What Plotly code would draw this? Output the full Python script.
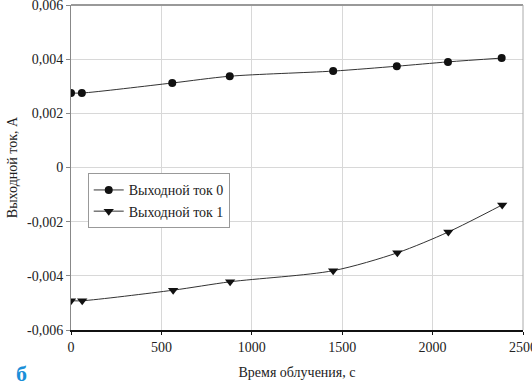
import plotly.graph_objects as go

time0 = [0, 60, 560, 878, 1450, 1802, 2085, 2382]
current0 = [0.00275, 0.00275, 0.00312, 0.00337, 0.00356, 0.00374, 0.00390, 0.00404]
time1 = [0, 62, 565, 880, 1450, 1805, 2087, 2385]
current1 = [-0.00492, -0.00492, -0.00453, -0.00422, -0.00381, -0.00315, -0.00238, -0.00138]
name0 = "Выходной ток 0"
name1 = "Выходной ток 1"
y_ticks = [-0.006, -0.004, -0.002, 0, 0.002, 0.004, 0.006]
y_ticktext = ["-0,006", "-0,004", "-0,002", "0", "0,002", "0,004", "0,006"]
x_ticks = [0, 500, 1000, 1500, 2000, 2500]

font = "Liberation Serif"

fig = go.Figure()
fig.add_trace(go.Scatter(
    x=time0, y=current0, name=name0, mode="lines+markers",
    line=dict(color="#333333", width=1, shape="spline", smoothing=0.8),
    marker=dict(symbol="circle", size=8, color="#111111"),
))
fig.add_trace(go.Scatter(
    x=time1, y=current1, name=name1, mode="lines+markers",
    line=dict(color="#333333", width=1, shape="spline", smoothing=0.8),
    marker=dict(symbol="triangle-down", size=9, color="#111111"),
))

fig.update_layout(
    width=532, height=384,
    margin=dict(l=71, r=9, t=5, b=54),
    paper_bgcolor="white", plot_bgcolor="white",
    font=dict(family=font, size=13, color="#222222"),
    showlegend=True,
    legend=dict(
        x=0.037, y=0.482, xanchor="left", yanchor="top",
        bgcolor="white", bordercolor="#999999", borderwidth=1,
        font=dict(family=font, size=14, color="#222222"),
        tracegroupgap=0, itemwidth=30,
    ),
    xaxis=dict(
        range=[0, 2500], tickvals=x_ticks, showgrid=True,
        gridcolor="#d8d8d8", gridwidth=1,
        showline=True, linecolor="#111111", linewidth=1.5,
        ticks="outside", ticklen=3, tickcolor="#111111",
        mirror=False, zeroline=False, automargin=False,
        ticklabeloverflow="allow",
        tickfont=dict(family=font, size=14),
        title=dict(text="Время облучения, с", font=dict(family=font, size=14), standoff=14),
    ),
    yaxis=dict(
        range=[-0.006, 0.006], tickvals=y_ticks, ticktext=y_ticktext,
        showgrid=True, gridcolor="#d8d8d8", gridwidth=1,
        showline=True, linecolor="#888888", linewidth=1,
        ticks="outside", ticklen=4, tickcolor="#888888",
        zeroline=False, automargin=False,
        ticklabeloverflow="allow",
        tickfont=dict(family=font, size=14),
        title=dict(text="Выходной ток, А", font=dict(family=font, size=14), standoff=6),
    ),
    shapes=[
        dict(type="line", xref="paper", yref="paper", x0=0, x1=1, y0=1, y1=1,
             line=dict(color="#999999", width=2)),
        dict(type="line", xref="paper", yref="paper", x0=1, x1=1, y0=0, y1=1,
             line=dict(color="#aaaaaa", width=1)),
    ],
    annotations=[
        dict(text="<b>б</b>", xref="paper", yref="paper", x=-0.127, y=-0.088,
             xanchor="left", yanchor="top", showarrow=False,
             font=dict(family=font, size=22, color="#1a8fd8")),
    ],
)

fig.write_html("out.html", config={"displayModeBar": False},
               post_script="document.body.style.margin='0px';")
